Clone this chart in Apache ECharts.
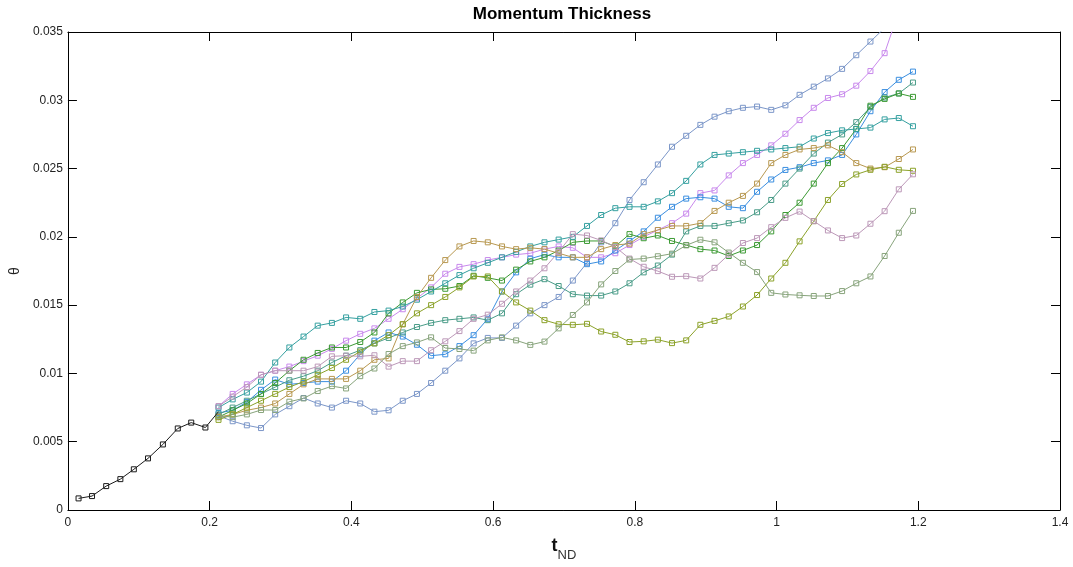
<!DOCTYPE html>
<html>
<head>
<meta charset="utf-8">
<script src="https://cdn.jsdelivr.net/npm/echarts@6/dist/echarts.min.js"></script>
<style>
html,body{margin:0;padding:0;background:#fff;}
#chart{width:1073px;height:567px;}
</style>
</head>
<body>
<div id="chart"></div>
<script>
// Non-dimensional time of the early (common) run and of the later runs
const tEarly = [0.015, 0.034, 0.054, 0.074, 0.093, 0.113, 0.134, 0.155, 0.174, 0.194];
const thetaEarly = [0.00085, 0.00102, 0.00175, 0.00226, 0.00298, 0.00378, 0.0048, 0.00597, 0.0064, 0.00604];

const tLate = [0.2125,0.2325,0.2525,0.2725,0.2925,0.3125,0.3325,0.3525,0.3725,0.3925,
  0.4125,0.4325,0.4525,0.4725,0.4925,0.5125,0.5325,0.5525,0.5725,0.5925,
  0.6125,0.6325,0.6525,0.6725,0.6925,0.7125,0.7325,0.7525,0.7725,0.7925,
  0.8125,0.8325,0.8525,0.8725,0.8925,0.9125,0.9325,0.9525,0.9725,0.9925,
  1.0125,1.0325,1.0525,1.0725,1.0925,1.1125,1.1325,1.1525,1.1725,1.1925];

// Momentum thickness of each run
const runSlate = [0.0069,0.0065,0.0062,0.0060,0.0070,0.0076,0.0082,0.0078,0.0075,0.0080,0.0078,0.0072,0.0073,0.0080,0.0085,0.0093,0.0102,0.0111,0.0122,0.0126,0.0126,0.0135,0.0144,0.0150,0.0156,0.0168,0.0181,0.0196,0.0210,0.0227,0.0240,0.0253,0.0266,0.0274,0.0282,0.0288,0.0292,0.02945,0.02954,0.0293,0.02963,0.0304,0.0310,0.0316,0.0323,0.0333,0.0343,0.0353,0.0362,0.0370];
const runViolet = [0.0076,0.0085,0.0092,0.0099,0.0102,0.0105,0.0109,0.0113,0.0118,0.0124,0.0129,0.0133,0.0140,0.0147,0.0155,0.0163,0.0173,0.0178,0.0180,0.0183,0.0185,0.0187,0.0188,0.0191,0.0193,0.0192,0.0185,0.0185,0.0188,0.0194,0.0200,0.0205,0.0210,0.0217,0.0232,0.0234,0.0245,0.0254,0.0260,0.0267,0.02755,0.02855,0.02945,0.03017,0.03044,0.03107,0.03214,0.03345,0.0365,0.0385];
const runBlue = [0.0071,0.0073,0.0079,0.0088,0.00955,0.0092,0.0093,0.0094,0.0094,0.0102,0.0114,0.0124,0.0130,0.0127,0.0121,0.0113,0.0114,0.0120,0.0128,0.0140,0.0160,0.0174,0.0184,0.0187,0.0185,0.0185,0.0180,0.0182,0.0190,0.0197,0.0204,0.0214,0.0222,0.0228,0.0229,0.0228,0.0222,0.0221,0.0233,0.0242,0.0249,0.0251,0.0254,0.0256,0.0260,0.0275,0.0292,0.0306,0.0315,0.0321];
const runSea = [0.0070,0.0075,0.0080,0.0085,0.0090,0.0095,0.0098,0.0102,0.0108,0.0113,0.0117,0.0122,0.0126,0.0130,0.0134,0.0137,0.0139,0.0140,0.0141,0.0139,0.0144,0.0158,0.0165,0.0169,0.0164,0.0158,0.0157,0.0157,0.0160,0.0166,0.0174,0.0179,0.0187,0.0204,0.0208,0.0208,0.0210,0.0212,0.0218,0.0227,0.0239,0.0250,0.0261,0.0269,0.0275,0.0284,0.0295,0.0302,0.0305,0.0313];
const runGreen = [0.0068,0.0073,0.0078,0.0085,0.0093,0.0102,0.0110,0.0115,0.0119,0.0119,0.0123,0.0130,0.0144,0.0152,0.0159,0.01615,0.0162,0.0164,0.01715,0.0170,0.0168,0.0176,0.0182,0.0185,0.0190,0.0196,0.0197,0.0197,0.0193,0.0202,0.0199,0.0201,0.0197,0.0194,0.0191,0.0190,0.0186,0.0190,0.0194,0.0204,0.0216,0.0225,0.0239,0.0254,0.0265,0.0279,0.0296,0.0301,0.0305,0.03025];
const runTeal = [0.0075,0.0081,0.0086,0.0094,0.0108,0.0119,0.0127,0.0135,0.0137,0.0141,0.0140,0.0145,0.0146,0.0149,0.0154,0.0160,0.0166,0.0172,0.0177,0.0181,0.0185,0.0189,0.0193,0.0196,0.0198,0.0200,0.0208,0.0216,0.0221,0.0222,0.0222,0.0226,0.0232,0.0241,0.0253,0.0260,0.0261,0.0262,0.0263,0.0264,0.0265,0.0266,0.0272,0.0276,0.0278,0.0279,0.0280,0.0286,0.0287,0.0281];
const runTan = [0.0068,0.0070,0.0073,0.0075,0.0078,0.0085,0.0092,0.0096,0.0096,0.0096,0.0102,0.0110,0.0111,0.0136,0.0156,0.0170,0.0183,0.0193,0.0197,0.0196,0.0193,0.0191,0.0192,0.0191,0.0188,0.0185,0.0185,0.0191,0.0194,0.0195,0.0202,0.0205,0.0208,0.0208,0.0210,0.0219,0.0225,0.0230,0.0239,0.0254,0.0260,0.0264,0.0265,0.0267,0.0262,0.0254,0.0250,0.0251,0.0257,0.0264];
const runOlive = [0.0066,0.0070,0.0075,0.0080,0.0085,0.0090,0.0094,0.0099,0.0104,0.0110,0.0116,0.0122,0.0128,0.0136,0.0144,0.0150,0.0156,0.0163,0.0171,0.0171,0.0160,0.0152,0.0146,0.0139,0.0136,0.01356,0.01363,0.01307,0.01283,0.0123,0.01235,0.01247,0.01222,0.01242,0.01356,0.01385,0.01417,0.0149,0.01574,0.01695,0.0181,0.01967,0.02115,0.0227,0.02387,0.02457,0.02491,0.02513,0.02491,0.02484];
const runMauve = [0.0076,0.0083,0.0090,0.0099,0.0102,0.0102,0.0102,0.0105,0.01125,0.0113,0.01125,0.01133,0.0105,0.0109,0.0109,0.0117,0.01235,0.0131,0.0140,0.0143,0.0151,0.0160,0.0168,0.0177,0.0189,0.0202,0.0201,0.01974,0.01926,0.01841,0.01781,0.01749,0.01708,0.01712,0.01695,0.01773,0.0187,0.01955,0.01991,0.02071,0.02139,0.02185,0.02115,0.02047,0.01991,0.0201,0.02096,0.02188,0.02348,0.02458];
const runSage = [0.0069,0.0068,0.0070,0.00732,0.00732,0.00793,0.00817,0.00871,0.00907,0.0089,0.0098,0.01036,0.01142,0.0120,0.01227,0.01264,0.01186,0.01179,0.01167,0.01242,0.01264,0.01242,0.01209,0.01233,0.0133,0.01428,0.0152,0.01652,0.0175,0.01834,0.01841,0.01858,0.01877,0.01938,0.01979,0.0196,0.01885,0.0181,0.01742,0.0159,0.01578,0.01572,0.01567,0.01567,0.01603,0.0166,0.0171,0.0186,0.0203,0.0219];

const xTicks = [0, 0.2, 0.4, 0.6, 0.8, 1, 1.2, 1.4];
const yTicks = [0, 0.005, 0.01, 0.015, 0.02, 0.025, 0.03, 0.035];

const runs = [
  { data: runSlate,  color: '#7b96c8' },
  { data: runViolet, color: '#c888ec' },
  { data: runBlue,   color: '#3a8ee0' },
  { data: runSea,    color: '#4a9c88' },
  { data: runGreen,  color: '#3c9a34' },
  { data: runTeal,   color: '#35a0a0' },
  { data: runTan,    color: '#b89850' },
  { data: runOlive,  color: '#8ca22a' },
  { data: runMauve,  color: '#bc98b8' },
  { data: runSage,   color: '#88a47c' }
];

function pairs(xs, ys) { return ys.map((y, i) => [xs[i], y]); }

function markerSeries(points, color, z) {
  return {
    type: 'line',
    data: points,
    symbol: 'rect',
    symbolSize: 5,
    showSymbol: true,
    clip: true,
    z: z,
    lineStyle: { color: color, width: 1 },
    itemStyle: { color: 'rgba(255,255,255,0)', borderColor: color, borderWidth: 1 },
    emphasis: { disabled: true },
    animation: false
  };
}

const series = [];
runs.forEach((r, k) => series.push(markerSeries(pairs(tLate, r.data), r.color, 2 + k)));

// early run, joined to the start of the later runs
const early = pairs(tEarly, thetaEarly);
early.push({ value: [tLate[0], 0.0072], symbol: 'none' });
series.push(markerSeries(early, '#1a1a1a', 20));

const font = 'Liberation Sans, Arial, sans-serif';
const axisCommon = {
  type: 'value',
  splitLine: { show: false },
  axisLine: { show: true, onZero: false, lineStyle: { color: '#000', width: 1 } },
  axisTick: { show: true, inside: true, length: 9, lineStyle: { color: '#000', width: 1 } }
};

const option = {
  animation: false,
  backgroundColor: '#fff',
  grid: { left: 67, right: 13, top: 32, bottom: 54 },
  graphic: [{
    type: 'text',
    x: 562, y: 14,
    style: {
      text: 'Momentum Thickness',
      font: 'bold 17px ' + font,
      fill: '#000',
      textAlign: 'center',
      textVerticalAlign: 'middle',
      verticalAlign: 'middle'
    }
  }],
  xAxis: [
    Object.assign({}, axisCommon, {
      min: xTicks[0], max: xTicks[xTicks.length - 1], interval: 0.2, position: 'bottom',
      axisLabel: { color: '#222', fontSize: 12, fontFamily: font, margin: 7,
        formatter: v => String(parseFloat(v.toFixed(3))) },
      name: '{t|t}{s|ND}',
      nameLocation: 'middle',
      nameGap: 27,
      nameTextStyle: {
        verticalAlign: 'top',
        rich: {
          t: { fontSize: 18, fontWeight: 'bold', fontFamily: font, color: '#111', verticalAlign: 'top', lineHeight: 18 },
          s: { fontSize: 13, fontFamily: font, color: '#333', verticalAlign: 'top', lineHeight: 18, padding: [12, 0, 0, 0] }
        }
      }
    }),
    Object.assign({}, axisCommon, {
      min: xTicks[0], max: xTicks[xTicks.length - 1], interval: 0.2, position: 'top',
      axisLabel: { show: false }
    })
  ],
  yAxis: [
    Object.assign({}, axisCommon, {
      min: yTicks[0], max: yTicks[yTicks.length - 1], interval: 0.005, position: 'left',
      axisLabel: { color: '#222', fontSize: 12, fontFamily: font, margin: 5,
        formatter: v => String(parseFloat(v.toFixed(4))) },
      name: 'θ',
      nameLocation: 'middle',
      nameRotate: 90,
      nameGap: 45,
      nameTextStyle: { fontSize: 14, fontFamily: font, color: '#222' }
    }),
    Object.assign({}, axisCommon, {
      min: yTicks[0], max: yTicks[yTicks.length - 1], interval: 0.005, position: 'right',
      axisLabel: { show: false }
    })
  ],
  series: series
};

const chart = echarts.init(document.getElementById('chart'), null, { renderer: 'canvas' });
chart.setOption(option);
</script>
</body>
</html>
